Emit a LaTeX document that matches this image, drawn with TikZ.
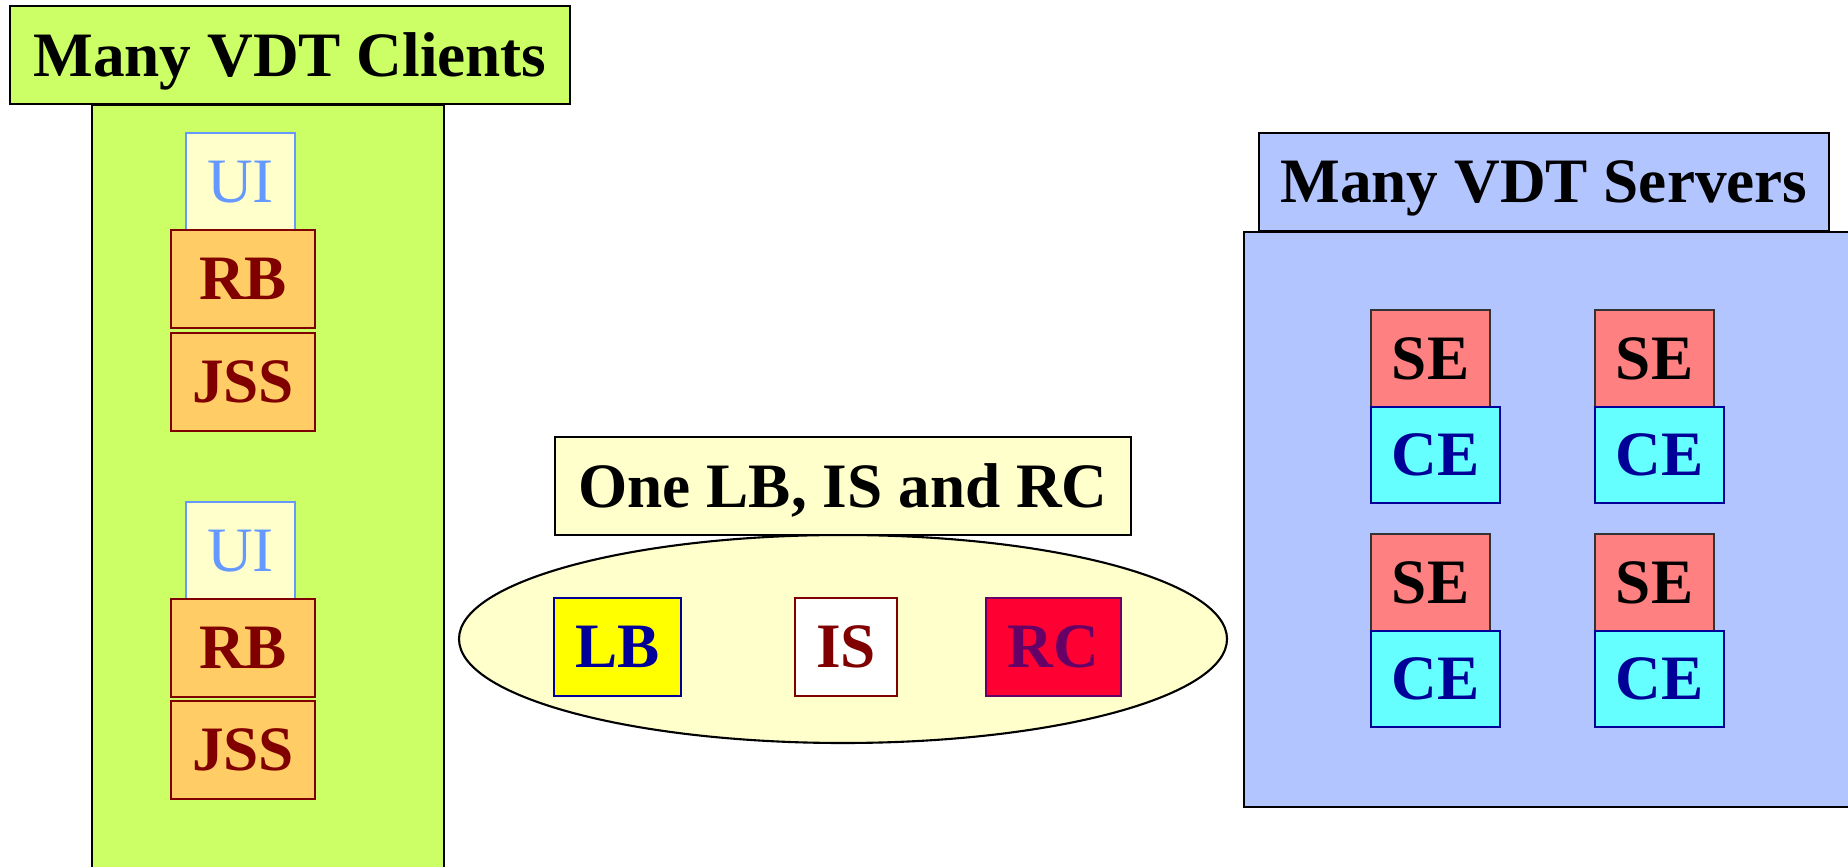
\documentclass[tikz,border=0pt]{standalone}
\usepackage{fontspec}
\setmainfont{Liberation Serif}
\usepackage{xcolor}
\usetikzlibrary{shapes.geometric}

\definecolor{clientgreen}{HTML}{CCFF66}
\definecolor{paleyellow}{HTML}{FFFFCC}
\definecolor{uiblue}{HTML}{6699FF}
\definecolor{rborange}{HTML}{FFCC66}
\definecolor{darkred}{HTML}{800000}
\definecolor{lbyellow}{HTML}{FFFF00}
\definecolor{navy}{HTML}{000099}
\definecolor{rcred}{HTML}{FF0033}
\definecolor{rcpurple}{HTML}{660066}
\definecolor{serverblue}{HTML}{B2C5FF}
\definecolor{sepink}{HTML}{FF8080}
\definecolor{cecyan}{HTML}{66FFFF}

\begin{document}
\begin{tikzpicture}[x=1cm,y=1cm,
        lbl/.style={font=\fontsize{18}{20}\selectfont\bfseries,text depth=0pt},
        panel/.style={draw,rectangle,line width=0.6pt,inner sep=0pt},
        headbox/.style={panel,lbl,minimum height=0.98cm},
        box/.style={draw,rectangle,line width=0.5pt,inner sep=0pt,lbl,minimum height=0.97cm},
        uibox/.style={box,fill=paleyellow,draw=uiblue,text=uiblue,font=\fontsize{18}{20}\selectfont,minimum width=1.09cm},
        rbbox/.style={box,fill=rborange,draw=darkred,text=darkred,minimum width=1.44cm,minimum height=0.98cm},
        sebox/.style={box,fill=sepink,draw=black!80,minimum width=1.19cm},
        cebox/.style={box,fill=cecyan,draw=navy,text=navy,minimum width=1.29cm,minimum height=0.96cm}]
        \useasboundingbox (0,0) rectangle (18.48,-8.67);

        % clients
        \node[panel,fill=clientgreen,anchor=north west,minimum width=3.52cm,minimum height=8cm] (clients) at (0.91,-1.04) {};
        \node[headbox,fill=clientgreen,minimum width=5.60cm] (clienthead) at (2.90,-0.55) {Many VDT Clients};
        \node[uibox] (ui1) at (2.405,-1.815) {UI};
        \node[rbbox] (rb1) at (2.43,-2.79) {RB};
        \node[rbbox] (jss1) at (2.43,-3.82) {JSS};
        \node[uibox] (ui2) at (2.405,-5.505) {UI};
        \node[rbbox] (rb2) at (2.43,-6.48) {RB};
        \node[rbbox] (jss2) at (2.43,-7.50) {JSS};

        % central services
        \node[ellipse,draw,fill=paleyellow,line width=0.6pt,inner sep=0pt,minimum width=7.68cm,minimum height=2.08cm] (core) at (8.43,-6.39) {};
        \node[headbox,fill=paleyellow,minimum width=5.76cm] (corehead) at (8.43,-4.86) {One LB, IS and RC};
        \node[box,fill=lbyellow,draw=navy,text=navy,minimum width=1.27cm,minimum height=0.98cm] (lb) at (6.175,-6.47) {LB};
        \node[box,fill=white,draw=darkred,text=darkred,minimum width=1.02cm,minimum height=0.98cm] (is) at (8.46,-6.47) {IS};
        \node[box,fill=rcred,draw=rcpurple,text=rcpurple,minimum width=1.35cm,minimum height=0.98cm] (rc) at (10.535,-6.47) {RC};

        % servers
        \node[panel,fill=serverblue,anchor=north west,minimum width=6.3cm,minimum height=5.75cm] (servers) at (12.43,-2.31) {};
        \node[headbox,fill=serverblue,minimum width=5.70cm] (serverhead) at (15.44,-1.82) {Many VDT Servers};
        \node[sebox] (se1) at (14.305,-3.585) {SE};
        \node[cebox] (ce1) at (14.355,-4.55) {CE};
        \node[sebox] (se2) at (16.545,-3.585) {SE};
        \node[cebox] (ce2) at (16.595,-4.55) {CE};
        \node[sebox] (se3) at (14.305,-5.825) {SE};
        \node[cebox] (ce3) at (14.355,-6.79) {CE};
        \node[sebox] (se4) at (16.545,-5.825) {SE};
        \node[cebox] (ce4) at (16.595,-6.79) {CE};
\end{tikzpicture}
\end{document}
